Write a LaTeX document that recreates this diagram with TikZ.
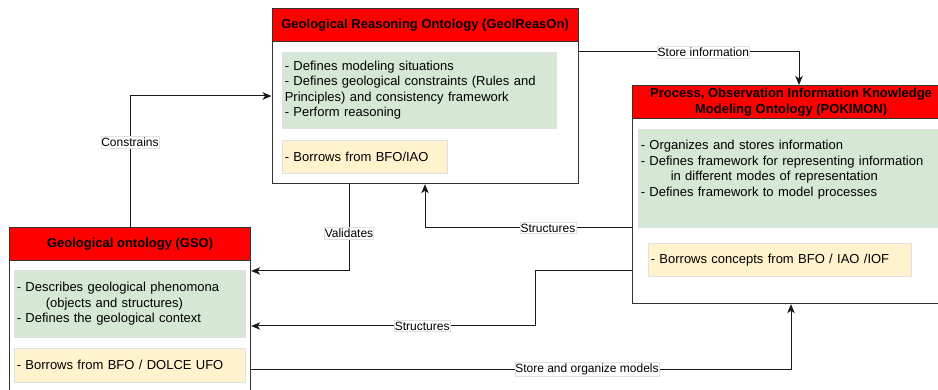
\documentclass[tikz,border=0pt]{standalone}
\usepackage{fontspec}
\setmainfont{Liberation Sans}
\usetikzlibrary{arrows.meta,calc}
\definecolor{hdrred}{HTML}{FF0000}
\definecolor{boxgreen}{HTML}{D5E8D4}
\definecolor{boxyellow}{HTML}{FFF2CC}
\definecolor{linegray}{HTML}{333333}
\begin{document}
\begin{tikzpicture}[x=1pt,y=-1pt,
  outer/.style={draw=linegray, line width=1.2pt, fill=white, rectangle, inner sep=0pt},
  hdr/.style={draw=linegray, line width=1.2pt, fill=hdrred, rectangle, inner sep=0pt, align=center,
    font=\fontsize{13pt}{16.5pt}\selectfont\bfseries},
  inbox/.style={draw=black!12, line width=0.6pt, rectangle, inner xsep=2.5pt, inner ysep=0pt, align=left,
    anchor=north west, font=\fontsize{13pt}{15.5pt}\selectfont},
  gbox/.style={inbox, fill=boxgreen},
  ybox/.style={inbox, fill=boxyellow},
  conn/.style={draw=black!90, line width=1pt},
  arr/.style={conn, -{Stealth[length=9pt,width=7.5pt,inset=2.5pt]}},
  lbl/.style={fill=white, draw=black!12, line width=0.5pt, inner xsep=0.5pt, inner ysep=1.5pt,
    font=\fontsize{12pt}{14pt}\selectfont}
]
\useasboundingbox (0,0) rectangle (938,390);
\clip (0,0) rectangle (938,390);

% outer boxes
\node[outer, minimum width=306pt, minimum height=175pt, anchor=north west] (gr) at (271.5,8) {};
\node[outer, minimum width=317pt, minimum height=218pt, anchor=north west] (pk) at (632,85) {};
\node[outer, minimum width=241pt, minimum height=190pt, anchor=north west] (gso) at (9,227) {};

% headers
\node[hdr, minimum width=306pt, minimum height=33pt, anchor=north west] (grh) at (gr.north west)
  {Geological Reasoning Ontology (GeolReasOn)};
\node[hdr, minimum width=317pt, minimum height=33pt, anchor=north west] (pkh) at (pk.north west)
  {Process, Observation Information Knowledge\\Modeling Ontology (POKIMON)};
\node[hdr, minimum width=241pt, minimum height=33pt, anchor=north west] (gsoh) at (gso.north west)
  {Geological ontology (GSO)};

% inner boxes
\node[gbox, text width=269pt, minimum height=76pt] (grg) at (282,52)
  {- Defines modeling situations\\- Defines geological constraints (Rules and\\Principles) and consistency framework\\- Perform reasoning};
\node[ybox, text width=160pt, minimum height=33pt] (gry) at (282,140)
  {- Borrows from BFO/IAO};
\node[gbox, text width=300pt, minimum height=98pt] (pkg) at (638,129)
  {- Organizes and stores information\\- Defines framework for representing information\\\hspace*{30pt}in different modes of representation\\- Defines framework to model processes\\\strut};
\node[ybox, text width=258pt, minimum height=33pt] (pky) at (648,243)
  {- Borrows concepts from BFO / IAO /IOF};
\node[gbox, text width=226pt, minimum height=67pt] (gsog) at (14,270)
  {- Describes geological phenomona\\\hspace*{29pt}(objects and structures)\\- Defines the geological context};
\node[ybox, text width=226pt, minimum height=34pt] (gsoy) at (14,348)
  {- Borrows from BFO / DOLCE UFO};

% connectors
\draw[arr] ([xshift=121pt]gso.north west) |- node[lbl, pos=0.324] {Constrains} ([yshift=-88pt]gr.north west);
\draw[arr] ([yshift=-44pt]gr.north east) -| node[lbl, pos=0.283] {Store information} ([xshift=167pt]pk.north west);
\draw[arr] ([xshift=77.5pt]gr.south west) |- node[lbl, pos=0.284] {Validates} ([yshift=-44pt]gso.north east);
\draw[arr] ([yshift=-143pt]pk.north west) -| node[lbl, pos=0.203] {Structures} ([xshift=153.5pt]gr.south west);
\draw[arr] ([yshift=-186pt]pk.north west) -| ([xshift=284pt,yshift=-99pt]gso.north east)
  -- node[lbl, pos=0.398] {Structures} ([yshift=-99pt]gso.north east);
\draw[arr] ([yshift=-142pt]gso.north east) -| node[lbl, pos=0.311] {Store and organize models} ([xshift=159pt]pk.south west);
\end{tikzpicture}
\end{document}
